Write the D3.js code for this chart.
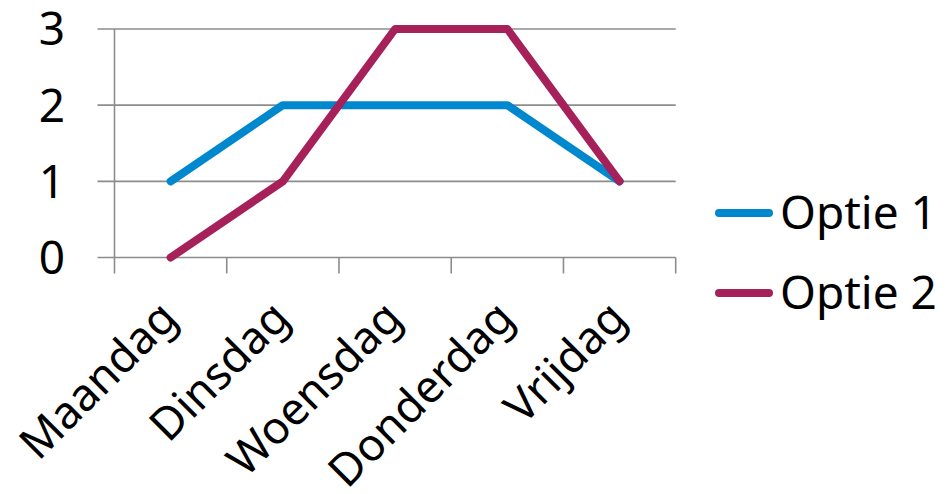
<!DOCTYPE html>
<html>
<head>
<meta charset="utf-8">
<script src="https://cdn.jsdelivr.net/npm/d3@7"></script>
<style>
  html, body { margin: 0; padding: 0; background: #fff; }
  svg { display: block; font-family: "Noto Sans", sans-serif; }
</style>
</head>
<body>
<svg id="chart" width="951" height="494"></svg>
<script>
// Weekdays on the x axis
const days = ["Maandag", "Dinsdag", "Woensdag", "Donderdag", "Vrijdag"];
// Values per option
const optie1 = [1, 2, 2, 2, 1];
const optie2 = [0, 1, 3, 3, 1];
const seriesNames = ["Optie 1", "Optie 2"];
const seriesColors = ["#0088ce", "#a6215a"];
const yTicks = [0, 1, 2, 3];

const svg = d3.select("#chart");
const plot = { left: 114.5, right: 675.7, top: 29, bottom: 257.5 };
const fontSize = 46;

const x = d3.scaleBand().domain(days).range([plot.left, plot.right]);
const y = d3.scaleLinear().domain([0, 3]).range([plot.bottom, plot.top]);

const gridColor = "#8c8c8c";

// Horizontal gridlines with small outward ticks on the left
svg.append("g").selectAll("line").data(yTicks).join("line")
  .attr("x1", plot.left - 17).attr("x2", plot.right)
  .attr("y1", d => y(d)).attr("y2", d => y(d))
  .attr("stroke", gridColor).attr("stroke-width", 1.6);

// Vertical axis line
svg.append("line")
  .attr("x1", plot.left).attr("x2", plot.left)
  .attr("y1", plot.top).attr("y2", plot.bottom + 16)
  .attr("stroke", gridColor).attr("stroke-width", 1.6);

// Category separators below the baseline
const bounds = days.map(d => x(d)).concat([plot.right]).slice(1);
svg.append("g").selectAll("line").data(bounds).join("line")
  .attr("x1", d => d).attr("x2", d => d)
  .attr("y1", plot.bottom).attr("y2", plot.bottom + 16)
  .attr("stroke", gridColor).attr("stroke-width", 1.6);

// Y tick labels
svg.append("g").selectAll("text").data(yTicks).join("text")
  .attr("x", 65).attr("y", d => y(d))
  .attr("dy", "0.357em")
  .attr("text-anchor", "end")
  .attr("font-size", fontSize)
  .attr("fill", "#000")
  .text(d => d);

// Rotated category labels
svg.append("g").selectAll("text").data(days).join("text")
  .attr("transform", d => `translate(${x(d) + x.bandwidth() / 2 + 9},${plot.bottom + 63}) rotate(-45)`)
  .attr("text-anchor", "end")
  .attr("font-size", 45)
  .attr("fill", "#000")
  .text(d => d);

// Series lines
const line = d3.line()
  .x((d, i) => x(days[i]) + x.bandwidth() / 2)
  .y(d => y(d));

[optie1, optie2].forEach((vals, k) => {
  svg.append("path")
    .datum(vals)
    .attr("d", line)
    .attr("fill", "none")
    .attr("stroke", seriesColors[k])
    .attr("stroke-width", 8)
    .attr("stroke-linejoin", "round")
    .attr("stroke-linecap", "round");
});

// Legend
const legend = svg.append("g").selectAll("g").data(seriesNames).join("g")
  .attr("transform", (d, i) => `translate(719,${213 + i * 80})`);
legend.append("line")
  .attr("x1", 0).attr("x2", 50)
  .attr("stroke", (d, i) => seriesColors[i])
  .attr("stroke-width", 8)
  .attr("stroke-linecap", "round");
legend.append("text")
  .attr("x", 61).attr("dy", "0.357em")
  .attr("font-size", fontSize)
  .attr("fill", "#000")
  .text(d => d);
</script>
</body>
</html>
